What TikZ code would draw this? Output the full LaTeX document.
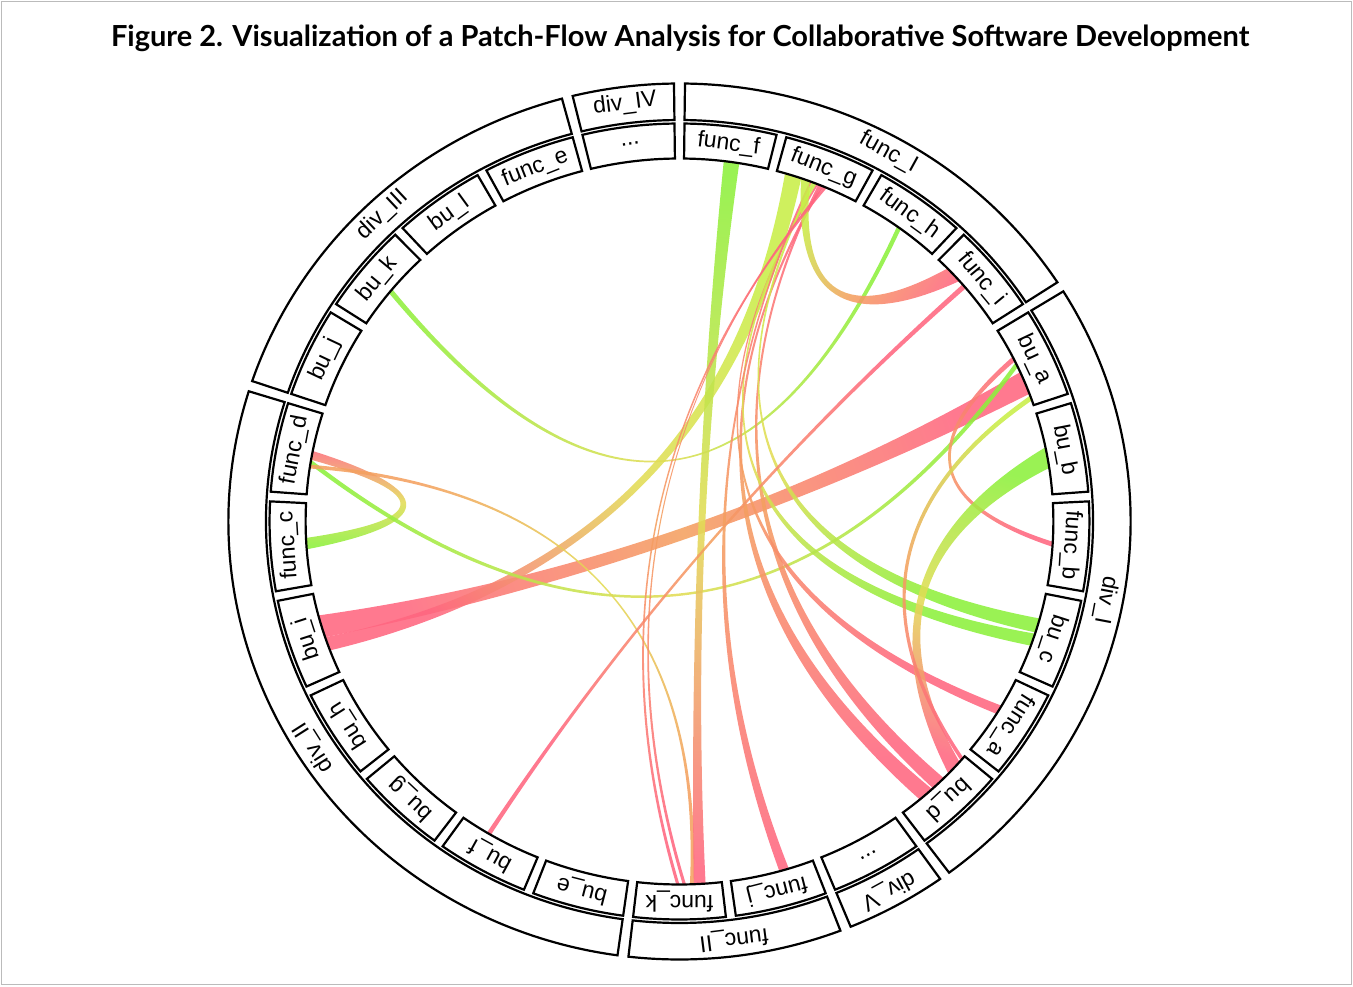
\documentclass[tikz,border=0pt]{standalone}
\usepackage{fontspec}
\setmainfont{Liberation Sans}
\newfontfamily\titlefont{Lato}

\definecolor{chgreen}{HTML}{8CF03C}
\definecolor{chlime}{HTML}{C8EE48}
\definecolor{chyellow}{HTML}{E2DC55}
\definecolor{chorange}{HTML}{F4A060}
\definecolor{chpink}{HTML}{FF6680}
\definecolor{framegray}{HTML}{BBBBBB}

\tikzset{
  segbox/.style={draw=black, line width=2.2pt, fill=white, line join=miter},
  seglabel/.style={font=\fontsize{23}{23}\selectfont, inner sep=0pt, text=black},
  ribbonstyle/.style={opacity=0.88},
}

\def\Rin{363}   % inner radius of the unit ring
\def\Rmid{398}  % outer radius of the unit ring
\def\Rdiv{401.5}% inner radius of the division ring
\def\Rout{438}  % outer radius of the division ring

% annular sector between two angles
\newcommand\sector[4]{%
  \draw[segbox] (#1:#3pt) arc[start angle=#1, end angle=#2, radius=#3pt]
    -- (#2:#4pt) arc[start angle=#2, end angle=#1, radius=#4pt] -- cycle;}

% unit box: index (0 = first box clockwise from the top), label
\newcommand\unitbox[2]{%
  \pgfmathsetmacro\ua{90-14.4*(#1+1)+0.7}%
  \pgfmathsetmacro\ub{90-14.4*#1-0.7}%
  \pgfmathsetmacro\uc{90-14.4*(#1+0.5)}%
  \sector{\ua}{\ub}{\Rin}{\Rmid}
  \node[seglabel, rotate=\uc-90] (u#1) at (\uc:380.5pt) {#2};}

% division box: first index, last index, label, node name
\newcommand\divbox[4]{%
  \pgfmathsetmacro\ua{90-14.4*(#2+1)+0.7}%
  \pgfmathsetmacro\ub{90-14.4*#1-0.7}%
  \pgfmathsetmacro\uc{(\ua+\ub)/2}%
  \sector{\ua}{\ub}{\Rdiv}{\Rout}
  \node[seglabel, rotate=\uc-90] (#4) at (\uc:421pt) {#3};}

% cubic control points of a quadratic link from angle #1 to angle #2
% through the shared control point (\ccx,\ccy) shifted by #3 along the bisector
\newcommand\linkctrl[4]{%
  \pgfmathsetmacro\lcx{\ccx+#3*cos(\cmu)}\pgfmathsetmacro\lcy{\ccy+#3*sin(\cmu)}%
  \pgfmathsetmacro\ltmp{\Rin*cos(#1)/3+2*\lcx/3}\expandafter\xdef\csname #4ax\endcsname{\ltmp}%
  \pgfmathsetmacro\ltmp{\Rin*sin(#1)/3+2*\lcy/3}\expandafter\xdef\csname #4ay\endcsname{\ltmp}%
  \pgfmathsetmacro\ltmp{\Rin*cos(#2)/3+2*\lcx/3}\expandafter\xdef\csname #4bx\endcsname{\ltmp}%
  \pgfmathsetmacro\ltmp{\Rin*sin(#2)/3+2*\lcy/3}\expandafter\xdef\csname #4by\endcsname{\ltmp}}

% chord ribbon: end A from #1 to #2, end B from #3 to #4 (both counter-clockwise);
% #5 = depth of the centre line (fraction of the radius, along the bisector),
% #6 = extra spread of the two edges at the tip;
% colours: #7 at A, #8 in the middle, #9 at B
\newcommand\ribbon[9]{%
  \pgfmathsetmacro\cpa{(#1+#2)/2}\pgfmathsetmacro\cpb{(#3+#4)/2}%
  \pgfmathsetmacro\cdd{mod(\cpb-\cpa+900,360)-180}%
  \pgfmathsetmacro\cmu{\cpa+\cdd/2}%
  \pgfmathsetmacro\chh{2*#5*\Rin-\Rin*cos(abs(\cdd)/2)}%
  \pgfmathsetmacro\ccx{\chh*cos(\cmu)}\pgfmathsetmacro\ccy{\chh*sin(\cmu)}%
  \linkctrl{#2}{#3}{-#6}{L}%
  \linkctrl{#4}{#1}{#6}{M}%
  \pgfmathsetmacro\amx{\Rin*cos(\cpa)}\pgfmathsetmacro\amy{\Rin*sin(\cpa)}%
  \pgfmathsetmacro\bmx{\Rin*cos(\cpb)}\pgfmathsetmacro\bmy{\Rin*sin(\cpb)}%
  \pgfmathsetmacro\shang{atan2(\bmy-\amy,1.03*(\bmx-\amx))-90}%
  \shade[ribbonstyle, top color=#9, bottom color=#7, middle color=#8, shading angle=\shang]
    (#1:\Rin pt) arc[start angle=#1, end angle=#2, radius=\Rin pt]
    .. controls (\Lax pt,\Lay pt) and (\Lbx pt,\Lby pt) .. (#3:\Rin pt)
    arc[start angle=#3, end angle=#4, radius=\Rin pt]
    .. controls (\Max pt,\May pt) and (\Mbx pt,\Mby pt) .. (#1:\Rin pt) -- cycle;}

\begin{document}
\begin{tikzpicture}[x=1pt, y=1pt]
\useasboundingbox (-679.5,-464.5) rectangle (673.5,521.5);
\draw[framegray, line width=1pt] (-677.5,-462.5) rectangle (671.5,519.5);

\node[font=\titlefont\bfseries\fontsize{29}{32}\selectfont, anchor=base] (title)
  at (0.5,474.5) {Figure 2. Visualization of a Patch-Flow Analysis for Collaborative Software Development};

\begin{scope}[xscale=1.03]
  % chords between units
  % bu_i
  \ribbon{-165}{-161.4}{20.6}{24.3}{-0.035}{0}{chpink}{chorange}{chpink}
  \ribbon{-161.4}{-159.2}{71}{73.6}{0.15}{0}{chpink}{chyellow}{chlime}
  % func_c / func_d
  \ribbon{182.6}{184.4}{168.8}{170.2}{0.74}{5}{chgreen}{chyellow}{chpink}
  \ribbon{170.2}{171}{25.2}{26}{-0.2}{0}{chgreen}{chyellow}{chgreen}
  \ribbon{171}{171.6}{-88.4}{-87.8}{0.27}{0}{chorange}{chyellow}{chorange}
  % bu_k
  \ribbon{140.2}{141}{53.7}{54.4}{0.17}{0}{chgreen}{chyellow}{chgreen}
  % func_f
  \ribbon{80.8}{83.2}{-87.8}{-86}{0.06}{0}{chgreen}{chyellow}{chpink}
  % func_g
  \ribbon{67.4}{67.8}{-50}{-47.5}{0.18}{0}{chpink}{chorange}{chpink}
  \ribbon{67.8}{68.2}{-47.3}{-45}{0.23}{0}{chpink}{chorange}{chpink}
  \ribbon{68.2}{68.5}{-32}{-30.5}{0.2}{0}{chpink}{chorange}{chpink}
  \ribbon{68.5}{68.9}{-20}{-18}{0.24}{0}{chlime}{chyellow}{chgreen}
  \ribbon{68.9}{69.3}{-17.8}{-15.5}{0.3}{0}{chlime}{chyellow}{chgreen}
  \ribbon{69.3}{69.6}{-74.5}{-73}{0.12}{0}{chpink}{chorange}{chpink}
  \ribbon{69.6}{71}{41.5}{44.2}{0.76}{4}{chlime}{chorange}{chpink}
  \ribbon{66.8}{67.2}{-90.5}{-90}{-0.06}{0}{chpink}{chorange}{chpink}
  \ribbon{67.2}{67.4}{-89.5}{-89}{-0.05}{0}{chpink}{chorange}{chpink}
  % right side
  \ribbon{-4}{-3.2}{26.2}{27}{0.74}{-2}{chpink}{chorange}{chpink}
  \ribbon{8.5}{11.8}{-44}{-41.5}{0.68}{3}{chgreen}{chyellow}{chpink}
  \ribbon{19.5}{20.3}{-41.2}{-40.6}{0.62}{2}{chlime}{chorange}{chpink}
  \ribbon{-121}{-120.3}{40}{40.8}{0.1}{0}{chpink}{chorange}{chpink}
\end{scope}

\begin{scope}[xscale=1.03]
  % unit ring
  \unitbox{0}{func\_f}
  \unitbox{1}{func\_g}
  \unitbox{2}{func\_h}
  \unitbox{3}{func\_i}
  \unitbox{4}{bu\_a}
  \unitbox{5}{bu\_b}
  \unitbox{6}{func\_b}
  \unitbox{7}{bu\_c}
  \unitbox{8}{func\_a}
  \unitbox{9}{bu\_d}
  \unitbox{10}{...}
  \unitbox{11}{func\_j}
  \unitbox{12}{func\_k}
  \unitbox{13}{bu\_e}
  \unitbox{14}{bu\_f}
  \unitbox{15}{bu\_g}
  \unitbox{16}{bu\_h}
  \unitbox{17}{bu\_i}
  \unitbox{18}{func\_c}
  \unitbox{19}{func\_d}
  \unitbox{20}{bu\_j}
  \unitbox{21}{bu\_k}
  \unitbox{22}{bu\_l}
  \unitbox{23}{func\_e}
  \unitbox{24}{...}
  % division ring
  \divbox{0}{3}{func\_I}{dfuncI}
  \divbox{4}{9}{div\_I}{ddivI}
  \divbox{10}{10}{div\_V}{ddivV}
  \divbox{11}{12}{func\_II}{dfuncII}
  \divbox{13}{19}{div\_II}{ddivII}
  \divbox{20}{23}{div\_III}{ddivIII}
  \divbox{24}{24}{div\_IV}{ddivIV}
\end{scope}
\end{tikzpicture}
\end{document}
